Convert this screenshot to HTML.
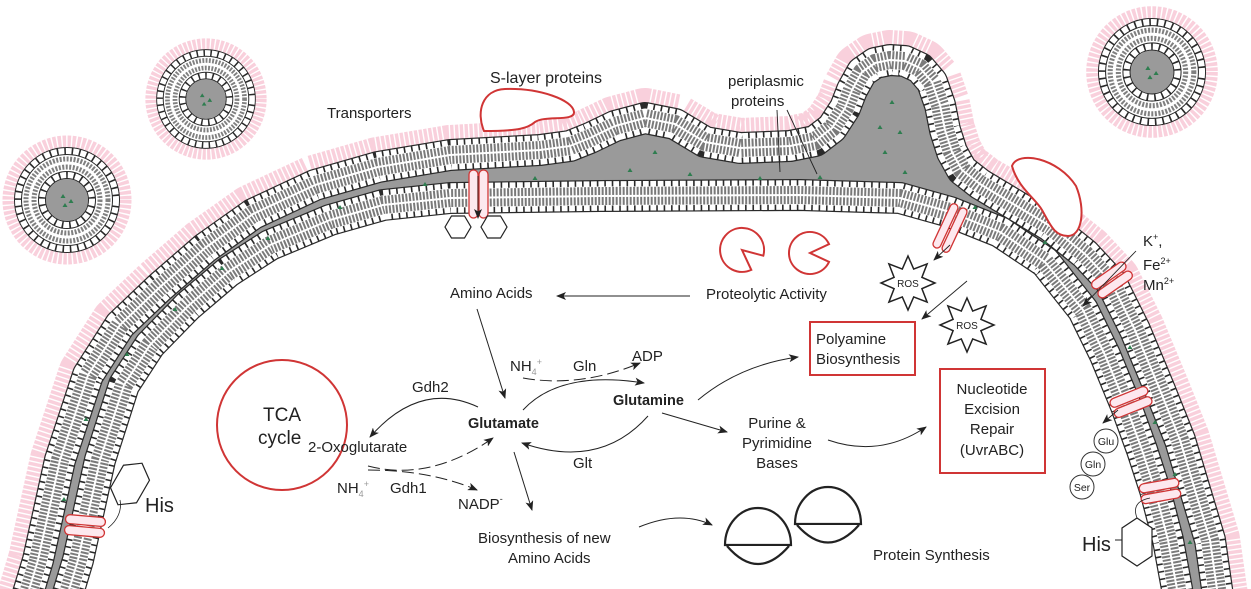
<!DOCTYPE html>
<html><head><meta charset="utf-8">
<style>
html,body{margin:0;padding:0;background:#fff;overflow:hidden;width:1251px;height:589px;}
svg{display:block;overflow:hidden;}
text{font-family:"Liberation Sans",Arial,sans-serif;fill:#222;}
</style></head>
<body>
<svg width="1251" height="589" viewBox="0 0 1251 589" xmlns="http://www.w3.org/2000/svg">
<defs>
<marker id="ah" markerWidth="10" markerHeight="8" refX="9" refY="4" orient="auto" markerUnits="userSpaceOnUse">
<path d="M0,0 L10,4 L0,8 L2.5,4 Z" fill="#222"/></marker>
<polyline id="omp" fill="none" stroke-linejoin="round" points="20,620 38,560 60,460 88,375 120,325 160,287 205,248 253,214 315,185 378,167 450,155 540,150 570,146 590,138 615,126 645,118 675,124 705,142 740,148 790,146 815,141 832,128 845,108 852,90 862,72 875,63 890,60 905,61 920,68 932,82 940,105 945,130 952,152 962,170 980,184 1000,196 1050,226 1085,254 1111,282 1135,330 1160,390 1180,440 1195,490 1210,540 1217,589 1222,620"/>
<polyline id="imp" fill="none" stroke-linejoin="round" points="60,620 78,560 100,460 124,385 150,345 188,306 228,272 270,245 330,220 383,205 450,198 600,196 800,195 900,198 950,212 1000,232 1045,262 1083,310 1105,355 1126,406 1142,450 1155,490 1168,540 1177,589 1182,620"/>
<g id="ves">
<circle r="58" fill="none" stroke="#f9d0dc" stroke-width="13" stroke-dasharray="3.4,1.4"/>
<circle r="51" fill="#fff"/><circle r="21" fill="#9a9a9a"/>
<circle r="49" fill="none" stroke="#2a2a2a" stroke-width="8"/><circle r="49" fill="none" stroke="#fff" stroke-width="6" stroke-dasharray="5.8,1.6"/>
<circle r="25" fill="none" stroke="#2a2a2a" stroke-width="8"/><circle r="25" fill="none" stroke="#fff" stroke-width="6" stroke-dasharray="5.8,1.6"/>
<circle r="41" fill="none" stroke="#808080" stroke-width="5" stroke-dasharray="2,1.5"/><circle r="33" fill="none" stroke="#808080" stroke-width="5" stroke-dasharray="2,1.5"/>
<path d="M-4,-6 l2.5,4 l-5,0z M4,-1 l2.5,4 l-5,0z M-2,3 l2.5,4 l-5,0z" fill="#2e7d4f"/>
</g>
</defs>

<!-- membranes -->
<use href="#omp" stroke="#f9d0dc" stroke-width="60" stroke-dasharray="3.4,1.4"/>
<polygon fill="#9a9a9a" points="20,620 38,560 60,460 88,375 120,325 160,287 205,248 253,214 315,185 378,167 450,155 540,150 570,146 590,138 615,126 645,118 675,124 705,142 740,148 790,146 815,141 832,128 845,108 852,90 862,72 875,63 890,60 905,61 920,68 932,82 940,105 945,130 952,152 962,170 980,184 1000,196 1050,226 1085,254 1111,282 1135,330 1160,390 1180,440 1195,490 1210,540 1217,589 1222,620 1182,620 1177,589 1168,540 1155,490 1142,450 1126,406 1105,355 1083,310 1045,262 1000,232 950,212 900,198 800,195 600,196 450,198 383,205 330,220 270,245 228,272 188,306 150,345 124,385 100,460 78,560 60,620"/>

<use href="#omp" stroke="#2a2a2a" stroke-width="32"/>
<use href="#omp" stroke="#fff" stroke-width="29.6" stroke-dasharray="5.8,1.6"/>
<use href="#omp" stroke="#fff" stroke-width="19"/>
<use href="#omp" stroke="#7a7a7a" stroke-width="18" stroke-dasharray="2,1.5"/>
<use href="#omp" stroke="#fff" stroke-width="2"/>

<use href="#imp" stroke="#2a2a2a" stroke-width="32"/>
<use href="#imp" stroke="#fff" stroke-width="29.6" stroke-dasharray="5.8,1.6"/>
<use href="#imp" stroke="#fff" stroke-width="19"/>
<use href="#imp" stroke="#7a7a7a" stroke-width="18" stroke-dasharray="2,1.5"/>
<use href="#imp" stroke="#fff" stroke-width="2"/>

<!-- green dots in periplasm -->
<g fill="#2e7d4f">
<path d="M64,497 l2.5,4 l-5,0z"/><path d="M86,417 l2.5,4 l-5,0z"/><path d="M127,352 l2.5,4 l-5,0z"/><path d="M175,307 l2.5,4 l-5,0z"/><path d="M222,266 l2.5,4 l-5,0z"/><path d="M268,236 l2.5,4 l-5,0z"/><path d="M340,205 l2.5,4 l-5,0z"/><path d="M425,182 l2.5,4 l-5,0z"/><path d="M535,176 l2.5,4 l-5,0z"/><path d="M630,168 l2.5,4 l-5,0z"/><path d="M655,150 l2.5,4 l-5,0z"/><path d="M690,172 l2.5,4 l-5,0z"/><path d="M760,176 l2.5,4 l-5,0z"/><path d="M820,175 l2.5,4 l-5,0z"/><path d="M885,150 l2.5,4 l-5,0z"/><path d="M892,100 l2.5,4 l-5,0z"/><path d="M880,125 l2.5,4 l-5,0z"/><path d="M905,170 l2.5,4 l-5,0z"/><path d="M900,130 l2.5,4 l-5,0z"/><path d="M975,205 l2.5,4 l-5,0z"/><path d="M1045,240 l2.5,4 l-5,0z"/><path d="M1095,282 l2.5,4 l-5,0z"/><path d="M1130,345 l2.5,4 l-5,0z"/><path d="M1155,420 l2.5,4 l-5,0z"/><path d="M1175,472 l2.5,4 l-5,0z"/><path d="M1190,540 l2.5,4 l-5,0z"/>
</g>

<!-- vesicles -->
<use href="#ves" transform="translate(67,200)"/>
<use href="#ves" transform="translate(206,99) scale(0.94)"/>
<use href="#ves" transform="translate(1152,72) scale(1.02)"/>

<!-- S-layer proteins -->
<path d="M484,131 C476,112 482,90 505,89 C540,88 573,100 574,112 C575,122 545,115 535,122 C528,128 520,131 484,131 Z" fill="#fff" stroke="#d03535" stroke-width="2"/>
<path d="M1012,166 C1018,150 1058,158 1076,186 C1086,210 1082,236 1068,236 C1054,236 1050,224 1042,210 C1036,199 1018,188 1012,166 Z" fill="#fff" stroke="#d03535" stroke-width="2"/>

<!-- transporters -->
<g fill="#fde8ee" stroke="#d03535" stroke-width="1.3">
<rect x="469" y="170" width="9" height="48" rx="4.5"/><rect x="479" y="170" width="9" height="48" rx="4.5"/>
<g transform="translate(950,228) rotate(-65)"><rect x="-24" y="-9" width="48" height="8" rx="4"/><rect x="-24" y="1" width="48" height="8" rx="4"/></g>
<g transform="translate(1112,280) rotate(-35)"><rect x="-20" y="-10" width="40" height="9" rx="4.5"/><rect x="-20" y="1" width="40" height="9" rx="4.5"/></g>
<g transform="translate(1131,402) rotate(-22)"><rect x="-20" y="-10" width="40" height="9" rx="4.5"/><rect x="-20" y="1" width="40" height="9" rx="4.5"/></g>
<g transform="translate(1160,491) rotate(-10)"><rect x="-20" y="-10" width="40" height="9" rx="4.5"/><rect x="-20" y="1" width="40" height="9" rx="4.5"/></g>
<g transform="translate(85,526) rotate(5)"><rect x="-20" y="-10" width="40" height="9" rx="4.5"/><rect x="-20" y="1" width="40" height="9" rx="4.5"/></g>
</g>
<line x1="478" y1="176" x2="478" y2="218" stroke="#222" stroke-width="0.8" marker-end="url(#ah)"/>

<!-- hexagons -->
<g fill="#fff" stroke="#222" stroke-width="1.2">
<polygon points="445,227 451.5,216 464.5,216 471,227 464.5,238 451.5,238"/>
<polygon points="481,227 487.5,216 500.5,216 507,227 500.5,238 487.5,238"/>
<polygon points="1137,518 1152,528 1152,556 1137,566 1122,556 1122,528"/>
<g transform="translate(130,484) rotate(30)"><polygon points="0,-24 15,-13 15,13 0,24 -15,13 -15,-13"/></g>
</g>
<path d="M1122,540 L1115,540" stroke="#222" fill="none"/>
<path d="M1137,518 C1132,505 1140,500 1150,498" stroke="#222" stroke-width="0.8" fill="none"/>
<path d="M108,528 C118,520 122,510 120,500" stroke="#222" stroke-width="0.8" fill="none"/>
<text x="145" y="512" font-size="20">His</text>
<text x="1082" y="551" font-size="20">His</text>

<!-- amino acid circles -->
<g fill="#fff" stroke="#333" stroke-width="1"><circle cx="1106" cy="441" r="12"/><circle cx="1093" cy="464" r="12"/><circle cx="1082" cy="487" r="12"/></g>
<text x="1106" y="445" font-size="10.5" text-anchor="middle">Glu</text>
<text x="1093" y="468" font-size="10.5" text-anchor="middle">Gln</text>
<text x="1082" y="491" font-size="10.5" text-anchor="middle">Ser</text>
<line x1="1118" y1="410" x2="1103" y2="423" stroke="#222" stroke-width="0.9" marker-end="url(#ah)"/>

<!-- ions -->
<text x="1143" y="246" font-size="15">K<tspan font-size="9" dy="-6">+</tspan><tspan dy="6">,</tspan></text>
<text x="1143" y="270" font-size="15">Fe<tspan font-size="9" dy="-6">2+</tspan></text>
<text x="1143" y="290" font-size="15">Mn<tspan font-size="9" dy="-6">2+</tspan></text>
<line x1="1136" y1="251" x2="1083" y2="306" stroke="#222" stroke-width="0.9" marker-end="url(#ah)"/>

<!-- top labels -->
<text x="490" y="83" font-size="16">S-layer proteins</text>
<text x="327" y="118" font-size="15">Transporters</text>
<text x="728" y="86" font-size="15">periplasmic</text>
<text x="731" y="106" font-size="15">proteins</text>
<line x1="777" y1="110" x2="780" y2="172" stroke="#222" stroke-width="0.9"/>
<line x1="787" y1="110" x2="817" y2="174" stroke="#222" stroke-width="0.9"/>

<!-- pacmen -->
<path d="M742,250 L751.3,269.9 A22,22 0 1 1 763.3,255.7 Z" fill="#fff" stroke="#d03535" stroke-width="2"/>
<path d="M810,253 L829,261.9 A21,21 0 1 1 829,244.1 Z" fill="#fff" stroke="#d03535" stroke-width="2"/>

<!-- ROS stars -->
<g fill="#fff" stroke="#222" stroke-width="1.5">
<polygon transform="translate(908,283)" points="0,-27 5.7,-13.9 19.1,-19.1 13.9,-5.7 27,0 13.9,5.7 19.1,19.1 5.7,13.9 0,27 -5.7,13.9 -19.1,19.1 -13.9,5.7 -27,0 -13.9,-5.7 -19.1,-19.1 -5.7,-13.9"/>
<polygon transform="translate(967,325)" points="0,-27 5.7,-13.9 19.1,-19.1 13.9,-5.7 27,0 13.9,5.7 19.1,19.1 5.7,13.9 0,27 -5.7,13.9 -19.1,19.1 -13.9,5.7 -27,0 -13.9,-5.7 -19.1,-19.1 -5.7,-13.9"/>
</g>
<text x="908" y="287" font-size="10" text-anchor="middle">ROS</text>
<text x="967" y="329" font-size="10" text-anchor="middle">ROS</text>
<line x1="950" y1="245" x2="934" y2="260" stroke="#222" stroke-width="0.9" marker-end="url(#ah)"/>
<line x1="967" y1="281" x2="922" y2="319" stroke="#222" stroke-width="0.9" marker-end="url(#ah)"/>

<!-- TCA -->
<circle cx="282" cy="425" r="65" fill="none" stroke="#d03535" stroke-width="2"/>
<text x="263" y="421" font-size="19">TCA</text>
<text x="258" y="444" font-size="19">cycle</text>

<!-- text -->
<g font-size="15">
<text x="450" y="298">Amino Acids</text>
<text x="706" y="299">Proteolytic Activity</text>
<text x="308" y="452">2-Oxoglutarate</text>
<text x="468" y="428" font-weight="bold" font-size="14.5">Glutamate</text>
<text x="613" y="405" font-weight="bold" font-size="14.5">Glutamine</text>
<text x="412" y="392">Gdh2</text>
<text x="390" y="493">Gdh1</text>
<text x="337" y="493" fill="#999">NH<tspan font-size="9" dy="4" fill="#999">4</tspan><tspan font-size="9" dy="-10" fill="#999">+</tspan></text>
<text x="510" y="371" fill="#999">NH<tspan font-size="9" dy="4" fill="#999">4</tspan><tspan font-size="9" dy="-10" fill="#999">+</tspan></text>
<text x="458" y="509">NADP<tspan font-size="9" dy="-7">-</tspan></text>
<text x="573" y="468">Glt</text>
<text x="573" y="371">Gln</text>
<text x="632" y="361">ADP</text>
<text x="478" y="543">Biosynthesis of new</text>
<text x="508" y="563">Amino Acids</text>
<text x="777" y="428" text-anchor="middle">Purine &amp;</text>
<text x="777" y="448" text-anchor="middle">Pyrimidine</text>
<text x="777" y="468" text-anchor="middle">Bases</text>
<text x="816" y="344">Polyamine</text>
<text x="816" y="364">Biosynthesis</text>
<text x="992" y="394" text-anchor="middle">Nucleotide</text>
<text x="992" y="414" text-anchor="middle">Excision</text>
<text x="992" y="434" text-anchor="middle">Repair</text>
<text x="992" y="455" text-anchor="middle">(UvrABC)</text>
<text x="873" y="560">Protein Synthesis</text>
</g>
<rect x="810" y="322" width="105" height="53" fill="none" stroke="#d03535" stroke-width="2"/>
<rect x="940" y="369" width="105" height="104" fill="none" stroke="#d03535" stroke-width="2"/>

<!-- arrows -->
<g fill="none" stroke="#222" stroke-width="1" marker-end="url(#ah)">
<line x1="690" y1="296" x2="557" y2="296"/>
<line x1="477" y1="309" x2="505" y2="398"/>
<path d="M478,407 Q420,380 370,437"/>
<path d="M368,466 Q430,482 493,438" stroke-dasharray="12,5"/>
<path d="M368,470 Q430,470 477,490" stroke-dasharray="12,5"/>
<line x1="514" y1="452" x2="532" y2="510"/>
<path d="M523,410 Q560,370 644,383"/>
<path d="M523,378 Q580,388 640,363" stroke-dasharray="12,5"/>
<path d="M648,416 Q600,470 522,443"/>
<path d="M698,400 Q740,365 798,357"/>
<line x1="662" y1="413" x2="727" y2="432"/>
<path d="M828,440 Q880,458 926,427"/>
<path d="M639,527 Q680,510 712,525"/>
</g>

<!-- ribosomes -->
<g fill="#fff" stroke="#222" stroke-width="2.2">
<path d="M725,545 A33,37 0 0 1 791,545 Z"/><path d="M727,546 Q758,582 789,546"/>
<path d="M795,524 A33,37 0 0 1 861,524 Z"/><path d="M797,525 Q828,560 859,525"/>
</g>
</svg>
</body></html>
